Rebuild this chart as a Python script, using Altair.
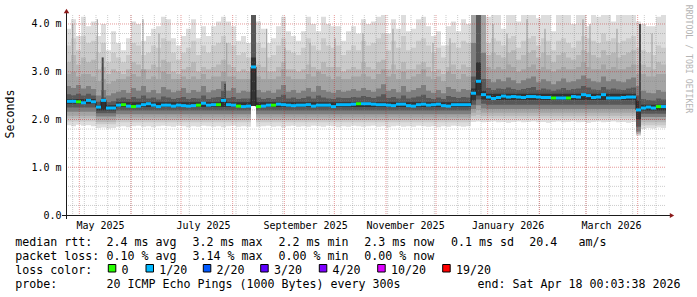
import altair as alt
import pandas as pd

# ---------------- data ----------------
START = "2025-04-23 00:03:38"
STEP_DAYS = 3  # one smoke column = 3 days

median_ms = [
    2.38, 2.38, 2.37, 2.35, 2.40, 2.37, 2.26, 2.40, 2.24, 2.24,
    2.30, 2.31, 2.28, 2.27, 2.28, 2.31, 2.33, 2.30, 2.27, 2.30,
    2.30, 2.28, 2.30, 2.29, 2.28, 2.29, 2.30, 2.34, 2.30, 2.31,
    2.31, 2.40, 2.31, 2.30, 2.28, 2.27, 2.28, 3.10, 2.27, 2.28,
    2.30, 2.30, 2.32, 2.31, 2.30, 2.29, 2.30, 2.30, 2.31, 2.28,
    2.30, 2.30, 2.30, 2.27, 2.31, 2.31, 2.31, 2.32, 2.33, 2.33,
    2.33, 2.32, 2.31, 2.31, 2.30, 2.29, 2.32, 2.32, 2.29, 2.28,
    2.31, 2.32, 2.30, 2.31, 2.32, 2.29, 2.28, 2.31, 2.31, 2.31,
    2.31, 2.55, 2.80, 2.52, 2.47, 2.44, 2.46, 2.49, 2.47, 2.48,
    2.47, 2.46, 2.48, 2.48, 2.47, 2.46, 2.46, 2.45, 2.45, 2.45,
    2.45, 2.48, 2.47, 2.52, 2.50, 2.46, 2.47, 2.52, 2.45, 2.45,
    2.45, 2.46, 2.47, 2.47, 2.20, 2.24, 2.26, 2.24, 2.27, 2.27,
]

lost_pings = [
    1, 1, 0, 1, 1, 1, 1, 1, 1, 1, 1, 0, 1, 0, 1, 1, 1, 1, 1, 1,
    1, 1, 1, 1, 1, 1, 0, 1, 1, 1, 0, 1, 1, 1, 0, 1, 1, 1, 0, 1,
    1, 0, 1, 1, 1, 1, 1, 1, 1, 1, 1, 1, 1, 1, 1, 1, 1, 1, 0, 1,
    1, 1, 1, 1, 1, 1, 1, 1, 1, 1, 1, 1, 1, 1, 1, 1, 1, 1, 1, 1,
    1, 1, 1, 1, 1, 1, 1, 1, 1, 1, 1, 1, 1, 1, 1, 1, 1, 0, 1, 1,
    0, 1, 1, 1, 1, 1, 1, 1, 1, 1, 1, 1, 1, 1, 1, 1, 1, 1, 0, 1,
]

# smoke: upper edges (slowest pings) ...
smoke_top = [
    3.90, 4.10, 3.75, 4.15, 3.95, 4.05, 3.75, 4.00, 3.45, 3.85,
    3.60, 3.45, 3.70, 4.05, 4.00, 3.65, 3.75, 3.90, 3.95, 4.15,
    4.10, 3.70, 3.55, 3.75, 3.90, 4.10, 3.70, 3.95, 3.75, 3.95,
    4.05, 4.15, 4.05, 3.95, 3.65, 3.75, 3.60, 4.19, 4.05, 3.90,
    3.60, 3.70, 3.95, 4.15, 3.85, 3.75, 3.65, 3.85, 4.15, 4.00,
    3.85, 4.15, 4.00, 3.95, 3.95, 3.65, 3.85, 3.95, 3.80, 4.10,
    4.00, 4.05, 4.15, 4.19, 3.80, 4.10, 3.90, 4.19, 3.85, 3.90,
    4.10, 4.15, 3.95, 3.75, 3.85, 3.55, 3.95, 4.05, 3.85, 4.10,
    4.00, 4.19, 4.19, 4.19, 4.15, 4.19, 4.19, 3.90, 4.19, 4.19,
    4.05, 4.19, 4.19, 4.19, 4.12, 4.19, 4.19, 3.85, 4.19, 4.19,
    4.19, 4.00, 4.19, 4.19, 3.95, 4.19, 4.15, 4.19, 4.19, 4.05,
    4.19, 4.19, 4.19, 4.19, 4.05, 4.00, 3.95, 3.95, 4.15, 4.19,
]
smoke_hi2 = [
    3.55, 3.70, 3.45, 3.75, 3.60, 3.65, 3.40, 3.60, 3.20, 3.40,
    3.30, 3.20, 3.35, 3.60, 3.55, 3.35, 3.40, 3.55, 3.50, 3.70,
    3.65, 3.40, 3.25, 3.40, 3.50, 3.65, 3.35, 3.55, 3.40, 3.55,
    3.60, 3.75, 3.60, 3.55, 3.35, 3.40, 3.30, 4.19, 3.60, 3.50,
    3.30, 3.35, 3.55, 3.70, 3.45, 3.40, 3.35, 3.50, 3.70, 3.55,
    3.45, 3.70, 3.55, 3.50, 3.55, 3.35, 3.45, 3.55, 3.45, 3.65,
    3.55, 3.60, 3.70, 3.80, 3.45, 3.65, 3.50, 3.75, 3.45, 3.50,
    3.65, 3.70, 3.55, 3.40, 3.50, 3.30, 3.55, 3.60, 3.50, 3.65,
    3.60, 4.19, 4.19, 4.19, 3.60, 3.70, 3.65, 3.55, 3.70, 3.75,
    3.50, 3.65, 3.70, 3.75, 3.55, 3.70, 3.65, 3.45, 3.65, 3.70,
    3.60, 3.50, 3.65, 3.75, 3.70, 3.65, 3.60, 3.80, 3.65, 3.70,
    3.60, 3.65, 3.70, 3.75, 3.50, 3.45, 3.40, 3.35, 3.55, 3.50,
]
smoke_hi3 = [
    3.20, 3.35, 3.15, 3.30, 3.20, 3.25, 3.05, 3.10, 2.95, 3.05,
    3.00, 2.95, 3.05, 3.20, 3.15, 3.00, 3.05, 3.15, 3.10, 3.25,
    3.20, 3.00, 2.95, 3.05, 3.10, 3.20, 3.00, 3.10, 3.05, 3.10,
    3.15, 3.25, 3.15, 3.10, 3.00, 3.05, 3.00, 4.19, 3.15, 3.10,
    3.00, 3.00, 3.10, 3.20, 3.05, 3.05, 3.00, 3.05, 3.15, 3.10,
    3.05, 3.20, 3.10, 3.10, 3.10, 3.00, 3.05, 3.10, 3.05, 3.20,
    3.10, 3.05, 3.20, 3.25, 3.05, 3.15, 3.05, 3.20, 3.05, 3.05,
    3.15, 3.20, 3.10, 3.00, 3.05, 2.95, 3.10, 3.15, 3.05, 3.15,
    3.10, 4.19, 4.19, 4.19, 3.35, 3.40, 3.35, 3.30, 3.40, 3.45,
    3.25, 3.35, 3.40, 3.45, 3.30, 3.40, 3.35, 3.20, 3.35, 3.40,
    3.30, 3.25, 3.35, 3.45, 3.40, 3.35, 3.30, 3.45, 3.35, 3.40,
    3.30, 3.35, 3.40, 3.45, 3.15, 3.15, 3.10, 3.05, 3.20, 3.15,
]
smoke_hi4 = [
    2.95, 3.00, 2.90, 2.95, 2.95, 2.90, 2.80, 2.85, 2.75, 2.80,
    2.85, 2.85, 2.90, 2.95, 2.90, 3.05, 2.85, 2.90, 2.85, 3.00,
    2.95, 2.85, 2.85, 2.90, 2.85, 2.90, 2.85, 2.95, 2.85, 2.90,
    2.90, 3.00, 2.90, 2.90, 2.85, 2.85, 2.85, 4.19, 2.90, 2.85,
    2.85, 2.85, 2.90, 3.05, 2.90, 2.85, 2.85, 2.85, 2.95, 2.90,
    3.00, 2.95, 2.90, 2.85, 2.90, 2.85, 2.85, 2.90, 2.90, 2.95,
    2.90, 2.85, 2.95, 3.05, 2.90, 2.95, 2.85, 3.00, 2.85, 2.90,
    2.95, 3.05, 2.90, 2.85, 2.90, 2.80, 3.00, 2.95, 2.85, 2.95,
    2.90, 4.19, 4.19, 4.19, 3.10, 3.05, 3.10, 3.05, 3.15, 3.10,
    3.00, 3.05, 3.10, 3.15, 3.05, 3.10, 3.05, 3.00, 3.05, 3.10,
    3.05, 3.05, 3.10, 3.20, 3.10, 3.05, 3.05, 3.15, 3.05, 3.10,
    3.05, 3.05, 3.10, 3.15, 2.95, 2.95, 2.90, 2.90, 2.95, 2.95,
]
smoke_hi5 = [
    2.70, 2.66, 2.72, 2.65, 2.70, 2.64, 2.50, 2.62, 2.50, 2.55,
    2.58, 2.62, 2.56, 2.66, 2.60, 2.70, 2.57, 2.62, 2.55, 2.68,
    2.63, 2.57, 2.60, 2.66, 2.56, 2.62, 2.58, 2.70, 2.57, 2.61,
    2.64, 2.80, 2.60, 2.66, 2.56, 2.60, 2.58, 4.19, 2.62, 2.57,
    2.60, 2.56, 2.63, 2.72, 2.58, 2.62, 2.56, 2.60, 2.66, 2.58,
    2.70, 2.62, 2.58, 2.56, 2.62, 2.58, 2.60, 2.64, 2.60, 2.66,
    2.62, 2.58, 2.65, 2.74, 2.60, 2.64, 2.57, 2.70, 2.58, 2.62,
    2.66, 2.72, 2.60, 2.56, 2.62, 2.55, 2.68, 2.64, 2.58, 2.64,
    2.62, 3.60, 4.19, 3.40, 2.85, 2.78, 2.84, 2.80, 2.88, 2.82,
    2.76, 2.82, 2.86, 2.90, 2.78, 2.84, 2.80, 2.74, 2.80, 2.86,
    2.78, 2.80, 2.84, 2.92, 2.86, 2.80, 2.78, 2.90, 2.80, 2.84,
    2.80, 2.78, 2.84, 2.88, 2.70, 2.60, 2.56, 2.55, 2.62, 2.58,
]
smoke_hi6 = [
    2.53, 2.51, 2.54, 2.50, 2.54, 2.50, 2.37, 2.46, 2.36, 2.38,
    2.44, 2.46, 2.43, 2.47, 2.44, 2.50, 2.44, 2.46, 2.42, 2.48,
    2.46, 2.43, 2.45, 2.47, 2.43, 2.45, 2.44, 2.50, 2.43, 2.46,
    2.47, 2.60, 2.45, 2.47, 2.43, 2.44, 2.44, 4.19, 2.46, 2.43,
    2.45, 2.43, 2.47, 2.52, 2.44, 2.46, 2.43, 2.45, 2.48, 2.44,
    2.50, 2.46, 2.44, 2.43, 2.46, 2.45, 2.45, 2.47, 2.46, 2.49,
    2.47, 2.45, 2.48, 2.53, 2.45, 2.47, 2.44, 2.50, 2.44, 2.46,
    2.48, 2.52, 2.45, 2.43, 2.46, 2.43, 2.49, 2.47, 2.45, 2.47,
    2.46, 2.90, 4.19, 2.85, 2.66, 2.62, 2.65, 2.64, 2.67, 2.64,
    2.62, 2.64, 2.66, 2.68, 2.62, 2.65, 2.63, 2.60, 2.63, 2.66,
    2.62, 2.64, 2.65, 2.70, 2.67, 2.63, 2.62, 2.68, 2.63, 2.65,
    2.63, 2.62, 2.65, 2.67, 2.50, 2.43, 2.41, 2.40, 2.44, 2.42,
]
smoke_hi7 = [2.43] * 6 + [2.30, 2.43, 2.30, 2.30] + [2.36] * 21 + [2.45] + [2.36] * 5 + [3.30] \
    + [2.36] * 43 + [2.65, 3.20, 2.60] + [2.54] * 30 + [2.40] + [2.31] * 5

# ... and lower edges (fastest pings)
smoke_lo7 = [2.33] * 6 + [2.19] * 4 + [2.26] * 27 + [2.28] + [2.26] * 43 + [2.40, 2.50, 2.42] + [2.41] * 30 + [2.00] + [2.19] * 5
smoke_lo6 = [2.25] * 6 + [2.13] * 4 + [2.19] * 27 + [2.28] + [2.19] * 43 + [2.31, 2.42, 2.33] + [2.31] * 30 + [1.85] + [2.12] * 5
smoke_lo5 = [2.16] * 6 + [2.06] * 4 + [2.11] * 27 + [2.28] + [2.11] * 43 + [2.22, 2.30, 2.23] + [2.22] * 30 + [1.75] + [2.05] * 5
smoke_lo4 = [2.08] * 6 + [2.00] * 4 + [2.04] * 27 + [2.28] + [2.04] * 43 + [2.14, 2.20, 2.14] + [2.14] * 30 + [1.72] + [1.99] * 5
smoke_lo3 = [2.02] * 6 + [1.95] * 4 + [1.99] * 27 + [2.28] + [1.99] * 43 + [2.08, 2.10, 2.08] + [2.08] * 30 + [1.70] + [1.94] * 5
smoke_lo2 = [1.96] * 6 + [1.90] * 4 + [1.94] * 27 + [2.28] + [1.94] * 43 + [2.02] * 33 + [1.68] + [1.88] * 5
smoke_lo1 = [
    1.88, 1.86, 1.89, 1.87, 1.88, 1.86, 1.82, 1.83, 1.81, 1.82,
    1.85, 1.86, 1.84, 1.86, 1.87, 1.85, 1.86, 1.84, 1.86, 1.87,
    1.86, 1.85, 1.87, 1.86, 1.84, 1.86, 1.85, 1.87, 1.86, 1.85,
    1.86, 1.84, 1.86, 1.87, 1.85, 1.86, 1.85, 2.28, 1.85, 1.86,
    1.87, 1.85, 1.86, 1.84, 1.86, 1.87, 1.85, 1.86, 1.85, 1.87,
    1.86, 1.85, 1.87, 1.86, 1.84, 1.86, 1.85, 1.87, 1.86, 1.85,
    1.86, 1.87, 1.85, 1.86, 1.84, 1.86, 1.87, 1.85, 1.86, 1.85,
    1.87, 1.86, 1.85, 1.86, 1.84, 1.86, 1.85, 1.87, 1.86, 1.85,
    1.86, 1.95, 1.96, 1.94, 1.95, 1.96, 1.94, 1.95, 1.93, 1.95,
    1.96, 1.94, 1.95, 1.96, 1.94, 1.95, 1.93, 1.95, 1.96, 1.94,
    1.95, 1.96, 1.94, 1.95, 1.93, 1.95, 1.96, 1.94, 1.95, 1.96,
    1.94, 1.95, 1.93, 1.95, 1.66, 1.80, 1.82, 1.81, 1.83, 1.82,
]

# single slow-ping streaks (thin vertical lines in the smoke)
streak_days = [4.0, 18.8, 46.2, 55.8, 96.4, 120.4, 131.4, 146.4, 161.4, 178.2, 196.2,
               220.2, 230.4, 256.2, 264.6, 276.6, 287.4, 310.2, 314.4, 330.6, 351.6]
streak_top = [4.0, 4.1, 4.1, 3.8, 3.6, 3.9, 3.5, 3.6, 3.7, 3.8, 3.9,
              3.6, 3.7, 4.0, 3.8, 4.1, 3.9, 4.1, 4.0, 3.9, 3.8]
streak_bottom = [2.5, 2.5, 2.45, 2.45, 2.45, 2.45, 2.45, 2.45, 2.45, 2.45, 2.45,
                 2.45, 2.45, 2.65, 2.65, 2.65, 2.65, 2.65, 2.65, 2.65, 2.45]
# short dark spikes
spike_days = [22.0, 95.4, 344.4]
spike_top = [3.3, 2.75, 4.0]
spike_bottom = [2.4, 2.35, 2.2]

loss_labels = ["0", "1/20", "2/20", "3/20", "4/20", "10/20", "19/20"]
loss_counts = [0, 1, 2, 3, 4, 10, 19]
loss_colors = ["#26ff00", "#00b8ff", "#0059ff", "#5e00ff", "#7e00ff", "#dd00ff", "#ff0000"]

month_label_dates = ["2025-05-13T10:00:00", "2025-07-14T05:00:00", "2025-09-13T10:00:00",
                     "2025-11-12T10:00:00", "2026-01-13T00:00:00", "2026-03-16T00:00:00"]
y_ticks = [0, 1, 2, 3, 4]

rtt_stats = ["median rtt:", "2.4 ms avg", "3.2 ms max", "2.2 ms min", "2.3 ms now", "0.1 ms sd", "20.4", "am/s"]
loss_stats = ["packet loss:", "0.10 % avg", "3.14 % max", "0.00 % min", "0.00 % now"]
probe_line = ["probe:", "20 ICMP Echo Pings (1000 Bytes) every 300s", "end: Sat Apr 18 00:03:38 2026"]
watermark = "RRDTOOL / TOBI OETIKER"

# ---------------- layout ----------------
W, H = 600, 200
n = len(median_ms)
edges = pd.date_range(START, periods=n + 1, freq=f"{STEP_DAYS}D")
start_ts = pd.Timestamp(START)


def dt(s):
    ts = pd.Timestamp(s)
    return alt.DateTime(year=ts.year, month=ts.month, date=ts.day,
                        hours=ts.hour, minutes=ts.minute, seconds=ts.second)


x_scale = alt.Scale(domain=[dt(START), dt(edges[-1])])
y_scale = alt.Scale(domain=[0, 4.188], nice=False, zero=False)

MONO = "DejaVu Sans Mono"

x_axis = alt.Axis(values=[dt(d) for d in month_label_dates], format="%B %Y", title=None,
                  ticks=False, domain=False, grid=False, labelFont=MONO, labelFontSize=10,
                  labelColor="#000000", labelPadding=13.5, labelBaseline="alphabetic",
                  labelAlign="center", labelFlush=False, labelOverlap=False)
y_axis = alt.Axis(values=y_ticks, title=None, ticks=False, domain=False, grid=False,
                  labelFont=MONO, labelFontSize=10, labelColor="#000000", labelPadding=5,
                  labelAlign="right", labelBaseline="middle", labelFlush=False,
                  labelExpr="datum.value == 0 ? '0.0\u00a0\u00a0' : format(datum.value, '.1f') + '\u00a0m'")


def X(field):
    return alt.X(field, scale=x_scale, axis=x_axis)


def Y(field):
    return alt.Y(field, scale=y_scale, axis=y_axis)


def step_frame(upper, lower):
    return pd.DataFrame({"t": edges, "hi": list(upper) + [upper[-1]], "lo": list(lower) + [lower[-1]]})


bands = [
    (smoke_top, smoke_lo1, "#dddddd"),
    (smoke_hi2, smoke_lo2, "#cacaca"),
    (smoke_hi3, smoke_lo3, "#b7b7b7"),
    (smoke_hi4, smoke_lo4, "#a4a4a4"),
    (smoke_hi5, smoke_lo5, "#7e7e7e"),
    (smoke_hi6, smoke_lo6, "#585858"),
    (smoke_hi7, smoke_lo7, "#323232"),
]

layers = []
for k, (up, lo, col) in enumerate(bands):
    layers.append(
        alt.Chart(step_frame(up, lo)).mark_area(interpolate="step-after", color=col, clip=True, opacity=1).encode(
            x=X("t:T"), y=Y("hi:Q"), y2="lo:Q")
    )
    if k == 2:
        streak_df = pd.DataFrame({
            "t": [start_ts + pd.Timedelta(days=d) for d in streak_days],
            "top": streak_top, "bot": streak_bottom,
        })
        layers.append(alt.Chart(streak_df).mark_rule(color="#a6a6a6", strokeWidth=1.2, clip=True).encode(
            x=X("t:T"), y=Y("top:Q"), y2="bot:Q"))

spike_df = pd.DataFrame({
    "t": [start_ts + pd.Timedelta(days=d) for d in spike_days],
    "top": spike_top, "bot": spike_bottom,
})
layers.append(alt.Chart(spike_df).mark_rule(color="#4a4a4a", strokeWidth=2, clip=True).encode(
    x=X("t:T"), y=Y("top:Q"), y2="bot:Q"))

# grid
minor_h = pd.DataFrame({"v": [round(0.2 * k, 1) for k in range(1, 21) if k % 5]})
major_h = pd.DataFrame({"v": [1.0, 2.0, 3.0, 4.0]})
minor_v = pd.DataFrame({"t": pd.date_range("2025-04-27", "2026-04-17", freq="7D")})
major_v = pd.DataFrame({"t": pd.date_range("2025-05-01", "2026-04-01", freq="MS")})

GRID = dict(color="#808080", opacity=0.4, strokeDash=[1, 1], strokeWidth=1)
MGRID = dict(color="#c81e1e", opacity=0.45, strokeDash=[1, 1], strokeWidth=1)

layers.append(alt.Chart(minor_h).mark_rule(**GRID).encode(y=Y("v:Q"), x=alt.value(0), x2=alt.value(W)))
layers.append(alt.Chart(minor_v).mark_rule(**GRID).encode(x=X("t:T"), y=alt.value(0), y2=alt.value(H)))
layers.append(alt.Chart(major_h).mark_rule(**MGRID).encode(y=Y("v:Q"), x=alt.value(0), x2=alt.value(W)))
layers.append(alt.Chart(major_v).mark_rule(**MGRID).encode(x=X("t:T"), y=alt.value(0), y2=alt.value(H)))

# thin dark median trace + thick loss-coloured median per column
med_df = pd.DataFrame({"t": edges, "med": median_ms + [median_ms[-1]]})
layers.append(alt.Chart(med_df).mark_line(interpolate="step-after", color="#202020",
                                          strokeWidth=1, clip=True).encode(x=X("t:T"), y=Y("med:Q")))

seg_df = pd.DataFrame({
    "t0": edges[:-1], "t1": edges[1:], "med": median_ms,
    "loss": [loss_labels[loss_counts.index(c)] for c in lost_pings],
})
layers.append(alt.Chart(seg_df).mark_rule(strokeWidth=3, clip=True).encode(
    x=X("t0:T"), x2="t1:T", y=Y("med:Q"),
    color=alt.Color("loss:N", scale=alt.Scale(domain=loss_labels, range=loss_colors), legend=None)))

# axis lines and arrows
one = pd.DataFrame({"k": [0]})
AX = "#1a1a1a"
layers.append(alt.Chart(one).mark_rule(color=AX, strokeWidth=1).encode(
    x=alt.value(-4), x2=alt.value(604), y=alt.value(200.5)))
layers.append(alt.Chart(one).mark_rule(color=AX, strokeWidth=1).encode(
    x=alt.value(0.5), y=alt.value(-2), y2=alt.value(204)))
layers.append(alt.Chart(one).mark_point(shape="triangle-up", filled=True, size=30, color="#8b1a1a",
                                        opacity=1, strokeWidth=0).encode(x=alt.value(0.5), y=alt.value(-4)))
layers.append(alt.Chart(one).mark_point(shape="triangle-right", filled=True, size=26, color="#8b1a1a",
                                        opacity=1, strokeWidth=0).encode(x=alt.value(606), y=alt.value(200.5)))

# y title and watermark
layers.append(alt.Chart(one).mark_text(text="Seconds", angle=270, font=MONO, fontSize=11.6,
                                       color="#000000", align="center", baseline="middle").encode(
    x=alt.value(-55.2), y=alt.value(99)))
layers.append(alt.Chart(one).mark_text(text=watermark, angle=90, font=MONO, fontSize=8.2,
                                       color="#b4b4b4", align="center", baseline="middle").encode(
    x=alt.value(621.5), y=alt.value(44)))

# legend texts (pixel positions relative to the plot origin)
row_y = [230.8, 244.7, 258.6, 272.5]
rtt_x = [-50.8, 40.5, 126.5, 212.5, 298.2, 384.9, 463.2, 512.5]
loss_x = [-50.8, 40.5, 126.5, 212.5, 298.2]
probe_x = [-50.8, 40.5, 411.5]
sq_x = [42.3, 80.0, 137.3, 194.7, 253.3, 311.7, 376.7]
txt_rows = []
txt_rows += [{"text": s, "x": x, "y": row_y[0]} for s, x in zip(rtt_stats, rtt_x)]
txt_rows += [{"text": s, "x": x, "y": row_y[1]} for s, x in zip(loss_stats, loss_x)]
txt_rows += [{"text": "loss color:", "x": -50.8, "y": row_y[2]}]
txt_rows += [{"text": s, "x": x + 13.2, "y": row_y[2]} for s, x in zip(loss_labels, sq_x)]
txt_rows += [{"text": s, "x": x, "y": row_y[3]} for s, x in zip(probe_line, probe_x)]
layers.append(alt.Chart(pd.DataFrame(txt_rows)).mark_text(
    align="left", baseline="alphabetic", font=MONO, fontSize=11.63, color="#000000").encode(
    x=alt.X("x:Q", scale=None, axis=None), y=alt.Y("y:Q", scale=None, axis=None), text="text:N"))

sq_df = pd.DataFrame({"x": sq_x, "x2": [v + 7.5 for v in sq_x], "loss": loss_labels})
layers.append(alt.Chart(sq_df).mark_rect(stroke="#000000", strokeWidth=1).encode(
    x=alt.X("x:Q", scale=None, axis=None), x2="x2:Q",
    y=alt.value(249.5), y2=alt.value(257),
    fill=alt.Fill("loss:N", scale=alt.Scale(domain=loss_labels, range=loss_colors), legend=None)))

chart = alt.layer(*layers).properties(
    width=W, height=H,
    padding={"left": 66, "top": 15, "right": 31, "bottom": 82},
    autosize=alt.AutoSizeParams(type="none"),
    background="#ffffff",
).configure_view(stroke=None)

chart.save("out.html", embed_options={"renderer": "svg", "actions": False})
